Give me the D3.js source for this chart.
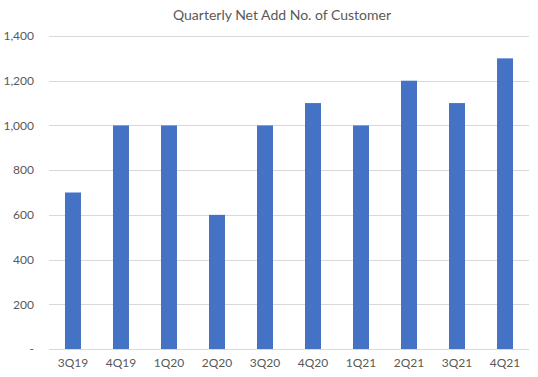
<!DOCTYPE html>
<html>
<head>
<meta charset="utf-8">
<title>Quarterly Net Add</title>
<script src="https://cdn.jsdelivr.net/npm/d3@7"></script>
<style>
  body { margin: 0; background: #fff; }
  text { font-family: Lato, "Open Sans", sans-serif; fill: #595959; }
</style>
</head>
<body>
<script>
var quarters = ["3Q19","4Q19","1Q20","2Q20","3Q20","4Q20","1Q21","2Q21","3Q21","4Q21"];
var netAdds = [700,1000,1000,600,1000,1100,1000,1200,1100,1300];
var yTicks = [0,200,400,600,800,1000,1200,1400];

var width = 538, height = 377,
    plotLeft = 49, plotRight = 529, plotTop = 36, plotBottom = 349;

var svg = d3.select("body").append("svg")
  .attr("width", width)
  .attr("height", height);

svg.append("text")
  .attr("x", 282).attr("y", 20)
  .attr("text-anchor", "middle")
  .style("font-size", "14px")
  .text("Quarterly Net Add No. of Customer");

var x = d3.scaleBand().domain(quarters).range([plotLeft, plotRight])
  .paddingInner(0.667).paddingOuter(0.333);
var y = d3.scaleLinear().domain([0, 1400]).range([plotBottom, plotTop]);

// gridlines
svg.append("g").selectAll("line")
  .data(yTicks).enter().append("line")
  .attr("x1", plotLeft).attr("x2", plotRight)
  .attr("y1", function(d){ return Math.round(y(d)) + 0.5; })
  .attr("y2", function(d){ return Math.round(y(d)) + 0.5; })
  .attr("stroke", "#d9d9d9").attr("stroke-width", 1);

var yAxis = d3.axisLeft(y).tickValues(yTicks).tickSize(0).tickPadding(0)
  .tickFormat(function(d){ return d === 0 ? "-" : d3.format(",")(d); });
var gy = svg.append("g").attr("transform", "translate(34,0)").call(yAxis);
gy.select(".domain").remove();
gy.selectAll("text").style("font-size", "12px").attr("fill", "#595959");

svg.append("g").selectAll("rect")
  .data(netAdds).enter().append("rect")
  .attr("x", function(d, i){ return x(quarters[i]); })
  .attr("width", x.bandwidth())
  .attr("y", function(d){ return y(d); })
  .attr("height", function(d){ return y(0) - y(d); })
  .attr("fill", "#4472c4");

// axis baseline
svg.append("line")
  .attr("x1", plotLeft).attr("x2", plotRight)
  .attr("y1", Math.round(y(0)) + 0.5).attr("y2", Math.round(y(0)) + 0.5)
  .attr("stroke", "#d9d9d9");

var xAxis = d3.axisBottom(x).tickSize(0).tickPadding(9);
var gx = svg.append("g").attr("transform", "translate(0," + plotBottom + ")").call(xAxis);
gx.select(".domain").remove();
gx.selectAll("text").style("font-size", "12px").attr("fill", "#595959");
</script>
</body>
</html>
